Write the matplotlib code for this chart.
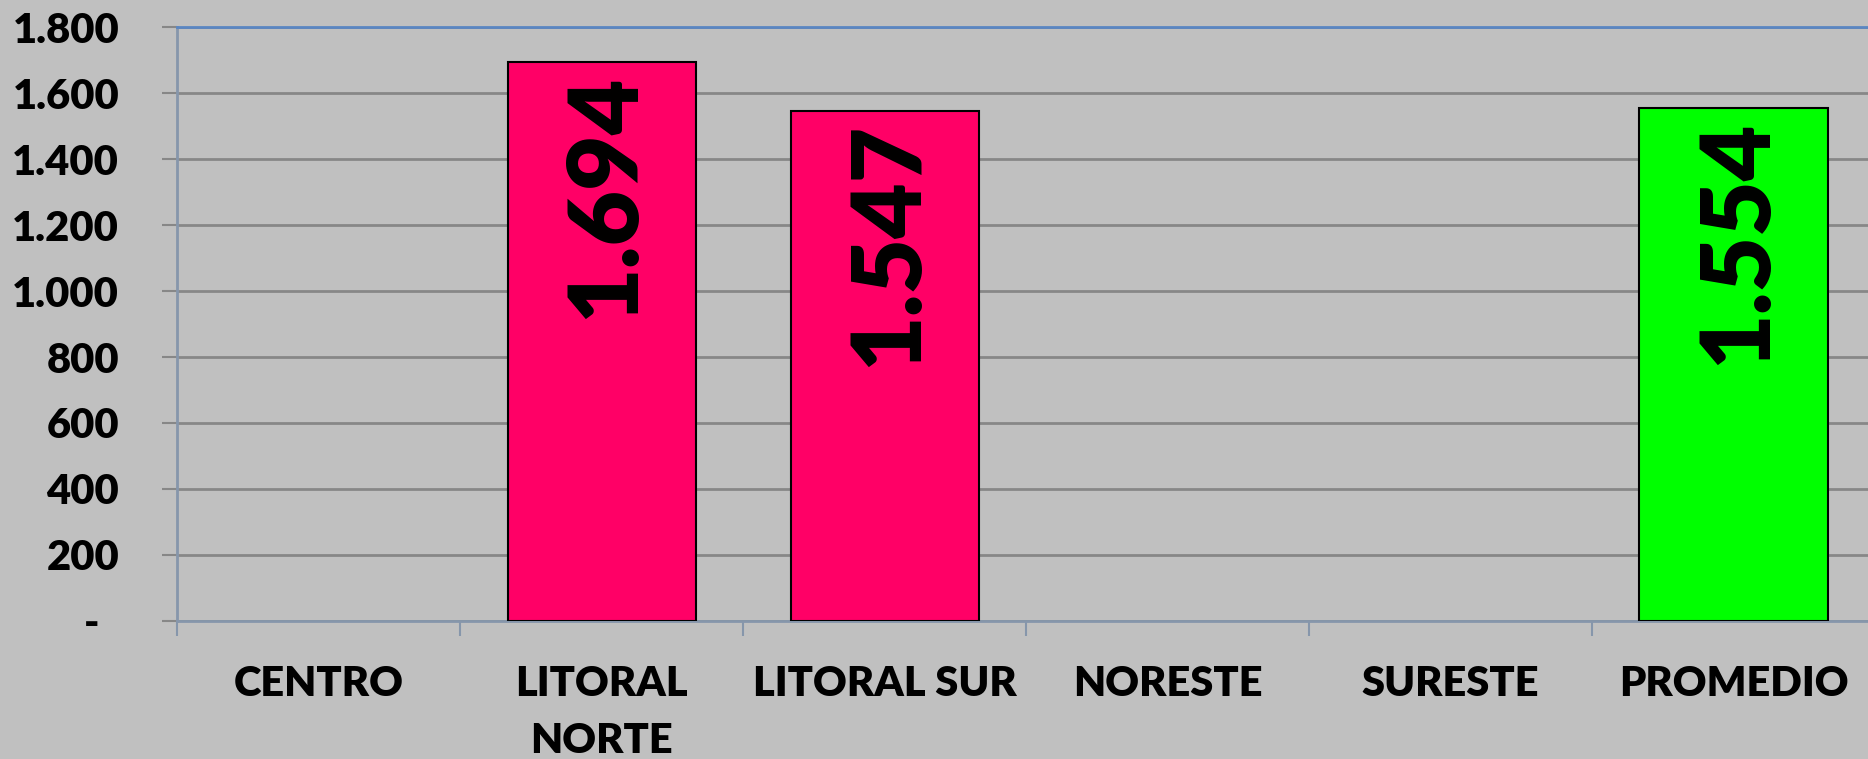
import matplotlib
matplotlib.use("Agg")
import matplotlib.pyplot as plt
from matplotlib.ticker import FuncFormatter, FixedLocator
import numpy as np

# data
categories = ["CENTRO", "LITORAL\nNORTE", "LITORAL SUR", "NORESTE", "SURESTE", "PROMEDIO"]
values = [None, 1694, 1547, None, None, 1554]
bar_colors = ["#ff0066", "#ff0066", "#ff0066", "#ff0066", "#ff0066", "#00ff00"]
y_ticks = [0, 200, 400, 600, 800, 1000, 1200, 1400, 1600, 1800]

BG = "#c0c0c0"
GRID = "#878787"
SPINE = "#8696ab"

plt.rcParams['font.family'] = ['Lato', 'DejaVu Sans']
plt.rcParams['font.weight'] = 'bold'

fig = plt.figure(figsize=(18.68, 7.59), dpi=100, facecolor=BG)
ax = fig.add_axes([0.0950, 0.1822, 0.9087, 0.7817], facecolor=BG)

x = np.arange(len(categories))
for xi, v, c in zip(x, values, bar_colors):
    if v is None:
        continue
    ax.bar(xi, v, width=0.665, color=c, edgecolor="black", linewidth=1.5, zorder=3)
    ax.annotate(f"{v:,}".replace(",", "."), xy=(xi, v), xytext=(3, -8),
                textcoords="offset points", rotation=90, ha="center", va="top",
                fontsize=69, fontweight="heavy", color="black", zorder=4)

ax.set_xlim(-0.5, len(categories) - 0.5)
ax.set_ylim(0, 1800)

def fmt(v, pos):
    if v == 0:
        return "-  "
    return f"{int(v):,}".replace(",", ".")

ax.yaxis.set_major_locator(FixedLocator(y_ticks))
ax.yaxis.set_major_formatter(FuncFormatter(fmt))
ax.grid(axis="y", color=GRID, linewidth=2, zorder=0)
ax.tick_params(axis="y", length=11, width=1.5, color=GRID, pad=31, labelsize=30)
for lbl in ax.get_yticklabels():
    lbl.set_fontweight("heavy")

ax.set_xticks(x)
ax.set_xticklabels(categories, fontsize=30, fontweight="heavy", linespacing=1.6)
ax.tick_params(axis="x", which="major", length=0, pad=32)
ax.set_xticks(np.arange(-0.5, len(categories) - 0.5), minor=True)
ax.tick_params(axis="x", which="minor", length=11, width=1.5, color=SPINE)

for side in ["left", "bottom"]:
    ax.spines[side].set_color(SPINE)
    ax.spines[side].set_linewidth(2)
ax.spines["top"].set_color("#5a86c2")
ax.spines["top"].set_linewidth(2)
ax.spines["right"].set_visible(False)

fig.savefig("out.png", dpi=100, facecolor=BG)
